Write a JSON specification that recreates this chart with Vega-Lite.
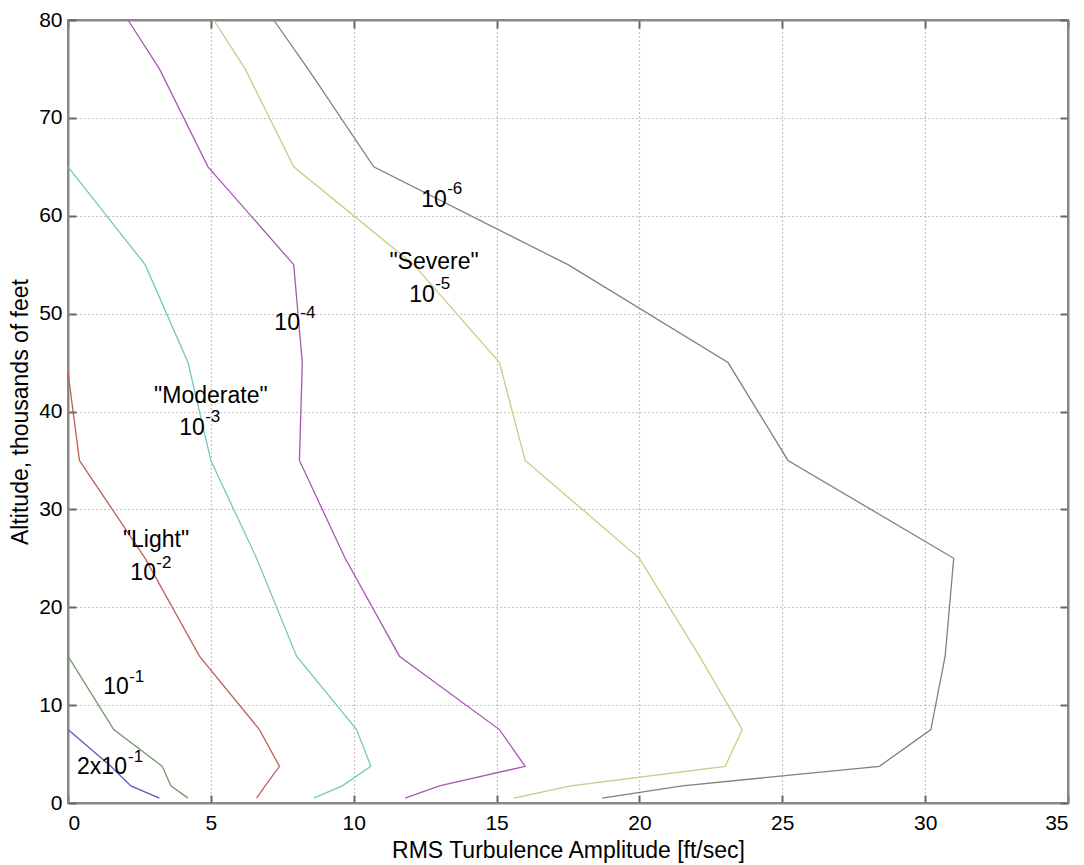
{
  "$schema": "https://vega.github.io/schema/vega-lite/v6.json",
  "width": 1000,
  "height": 783,
  "autosize": {"type": "none"},
  "padding": {"left": 68, "top": 20, "right": 16, "bottom": 62},
  "background": "white",
  "config": {
    "font": "Liberation Sans",
    "view": {"stroke": "#888888", "strokeWidth": 2},
    "axis": {
      "domainColor": "#888888",
      "domainWidth": 2,
      "tickColor": "#666666",
      "tickWidth": 2,
      "tickSize": -8,
      "labelFont": "Liberation Sans",
      "labelFontSize": 21,
      "labelColor": "#000000",
      "titleFont": "Liberation Sans",
      "titleFontSize": 23,
      "titleFontWeight": "normal",
      "titleColor": "#000000",
      "gridColor": "#8a8a8a",
      "gridDash": [1, 3],
      "gridWidth": 1.2,
      "gridOpacity": 1
    }
  },
  "datasets": {
    "curves": [
      {"curve": "2x10^-1", "x": 3.2, "alt": 0.5},
      {"curve": "2x10^-1", "x": 2.2, "alt": 1.75},
      {"curve": "2x10^-1", "x": 1.5, "alt": 3.75},
      {"curve": "2x10^-1", "x": 0, "alt": 7.5},
      {"curve": "10^-1", "x": 4.2, "alt": 0.5},
      {"curve": "10^-1", "x": 3.6, "alt": 1.75},
      {"curve": "10^-1", "x": 3.3, "alt": 3.75},
      {"curve": "10^-1", "x": 1.6, "alt": 7.5},
      {"curve": "10^-1", "x": 0, "alt": 15},
      {"curve": "10^-2", "x": 6.6, "alt": 0.5},
      {"curve": "10^-2", "x": 6.9, "alt": 1.75},
      {"curve": "10^-2", "x": 7.4, "alt": 3.75},
      {"curve": "10^-2", "x": 6.7, "alt": 7.5},
      {"curve": "10^-2", "x": 4.6, "alt": 15},
      {"curve": "10^-2", "x": 2.7, "alt": 25},
      {"curve": "10^-2", "x": 0.4, "alt": 35},
      {"curve": "10^-2", "x": 0, "alt": 44},
      {"curve": "10^-3", "x": 8.6, "alt": 0.5},
      {"curve": "10^-3", "x": 9.6, "alt": 1.75},
      {"curve": "10^-3", "x": 10.6, "alt": 3.75},
      {"curve": "10^-3", "x": 10.1, "alt": 7.5},
      {"curve": "10^-3", "x": 8.0, "alt": 15},
      {"curve": "10^-3", "x": 6.6, "alt": 25},
      {"curve": "10^-3", "x": 5.0, "alt": 35},
      {"curve": "10^-3", "x": 4.2, "alt": 45},
      {"curve": "10^-3", "x": 2.7, "alt": 55},
      {"curve": "10^-3", "x": 0, "alt": 65},
      {"curve": "10^-4", "x": 11.8, "alt": 0.5},
      {"curve": "10^-4", "x": 13.0, "alt": 1.75},
      {"curve": "10^-4", "x": 16.0, "alt": 3.75},
      {"curve": "10^-4", "x": 15.1, "alt": 7.5},
      {"curve": "10^-4", "x": 11.6, "alt": 15},
      {"curve": "10^-4", "x": 9.7, "alt": 25},
      {"curve": "10^-4", "x": 8.1, "alt": 35},
      {"curve": "10^-4", "x": 8.2, "alt": 45},
      {"curve": "10^-4", "x": 7.9, "alt": 55},
      {"curve": "10^-4", "x": 4.9, "alt": 65},
      {"curve": "10^-4", "x": 3.2, "alt": 75},
      {"curve": "10^-4", "x": 2.1, "alt": 80},
      {"curve": "10^-5", "x": 15.6, "alt": 0.5},
      {"curve": "10^-5", "x": 17.6, "alt": 1.75},
      {"curve": "10^-5", "x": 23.0, "alt": 3.75},
      {"curve": "10^-5", "x": 23.6, "alt": 7.5},
      {"curve": "10^-5", "x": 22.1, "alt": 15},
      {"curve": "10^-5", "x": 20.0, "alt": 25},
      {"curve": "10^-5", "x": 16.0, "alt": 35},
      {"curve": "10^-5", "x": 15.1, "alt": 45},
      {"curve": "10^-5", "x": 12.1, "alt": 55},
      {"curve": "10^-5", "x": 7.9, "alt": 65},
      {"curve": "10^-5", "x": 6.2, "alt": 75},
      {"curve": "10^-5", "x": 5.1, "alt": 80},
      {"curve": "10^-6", "x": 18.7, "alt": 0.5},
      {"curve": "10^-6", "x": 21.5, "alt": 1.75},
      {"curve": "10^-6", "x": 28.4, "alt": 3.75},
      {"curve": "10^-6", "x": 30.2, "alt": 7.5},
      {"curve": "10^-6", "x": 30.7, "alt": 15},
      {"curve": "10^-6", "x": 31.0, "alt": 25},
      {"curve": "10^-6", "x": 25.2, "alt": 35},
      {"curve": "10^-6", "x": 23.1, "alt": 45},
      {"curve": "10^-6", "x": 17.5, "alt": 55},
      {"curve": "10^-6", "x": 10.7, "alt": 65},
      {"curve": "10^-6", "x": 8.4, "alt": 75},
      {"curve": "10^-6", "x": 7.2, "alt": 80}
    ],
    "labels": [
      {"text": "10", "x": 12.81, "y": 61.6},
      {"text": "\"Severe\"", "x": 12.81, "y": 55.28},
      {"text": "10", "x": 12.39, "y": 51.9},
      {"text": "10", "x": 7.67, "y": 49.04},
      {"text": "\"Moderate\"", "x": 5.0, "y": 41.58},
      {"text": "10", "x": 4.34, "y": 38.31},
      {"text": "\"Light\"", "x": 3.08, "y": 26.87},
      {"text": "10", "x": 2.63, "y": 23.5},
      {"text": "10", "x": 1.68, "y": 11.85},
      {"text": "2x10", "x": 1.19, "y": 3.68}
    ],
    "sups": [
      {"text": "-6", "x": 13.27, "y": 62.7},
      {"text": "-5", "x": 12.85, "y": 52.98},
      {"text": "-4", "x": 8.13, "y": 50.1},
      {"text": "-3", "x": 4.8, "y": 39.4},
      {"text": "-2", "x": 3.09, "y": 24.56},
      {"text": "-1", "x": 2.14, "y": 12.9},
      {"text": "-1", "x": 2.1, "y": 4.75}
    ]
  },
  "layer": [
    {
      "data": {"name": "curves"},
      "mark": {"type": "line", "strokeWidth": 1.3},
      "encoding": {
        "x": {
          "field": "x", "type": "quantitative",
          "scale": {"domain": [0, 35], "nice": false, "zero": false},
          "axis": {
            "orient": "bottom",
            "values": [0, 5, 10, 15, 20, 25, 30, 35],
            "grid": true,
            "labelPadding": 17,
            "title": "RMS Turbulence Amplitude [ft/sec]",
            "titleY": 47,
            "titleBaseline": "middle"
          }
        },
        "y": {
          "field": "alt", "type": "quantitative",
          "scale": {"domain": [0, 80], "nice": false, "zero": false},
          "axis": {
            "orient": "left",
            "values": [0, 10, 20, 30, 40, 50, 60, 70, 80],
            "grid": true,
            "labelPadding": 14,
            "title": "Altitude, thousands of feet",
            "titleX": -48,
            "titleBaseline": "middle"
          }
        },
        "color": {
          "field": "curve", "type": "nominal",
          "scale": {
            "domain": ["2x10^-1", "10^-1", "10^-2", "10^-3", "10^-4", "10^-5", "10^-6"],
            "range": ["#5a5ac4", "#74986a", "#c0605a", "#78c8b8", "#a858b4", "#c8cc84", "#808080"]
          },
          "legend": null
        },
        "order": {"field": "alt", "type": "quantitative"}
      }
    },
    {
      "data": {"name": "labels"},
      "mark": {"type": "text", "fontSize": 23, "align": "center", "baseline": "middle", "color": "#000000", "font": "Liberation Sans"},
      "encoding": {
        "x": {
          "field": "x", "type": "quantitative",
          "axis": {"orient": "top", "values": [0, 5, 10, 15, 20, 25, 30, 35], "labels": false, "grid": false, "title": null}
        },
        "y": {
          "field": "y", "type": "quantitative",
          "axis": {"orient": "right", "values": [0, 10, 20, 30, 40, 50, 60, 70, 80], "labels": false, "grid": false, "title": null}
        },
        "text": {"field": "text"}
      }
    },
    {
      "data": {"name": "sups"},
      "mark": {"type": "text", "fontSize": 17, "align": "left", "baseline": "middle", "color": "#000000", "font": "Liberation Sans"},
      "encoding": {
        "x": {"field": "x", "type": "quantitative", "axis": null},
        "y": {"field": "y", "type": "quantitative", "axis": null},
        "text": {"field": "text"}
      }
    }
  ],
  "resolve": {"axis": {"x": "independent", "y": "independent"}}
}
